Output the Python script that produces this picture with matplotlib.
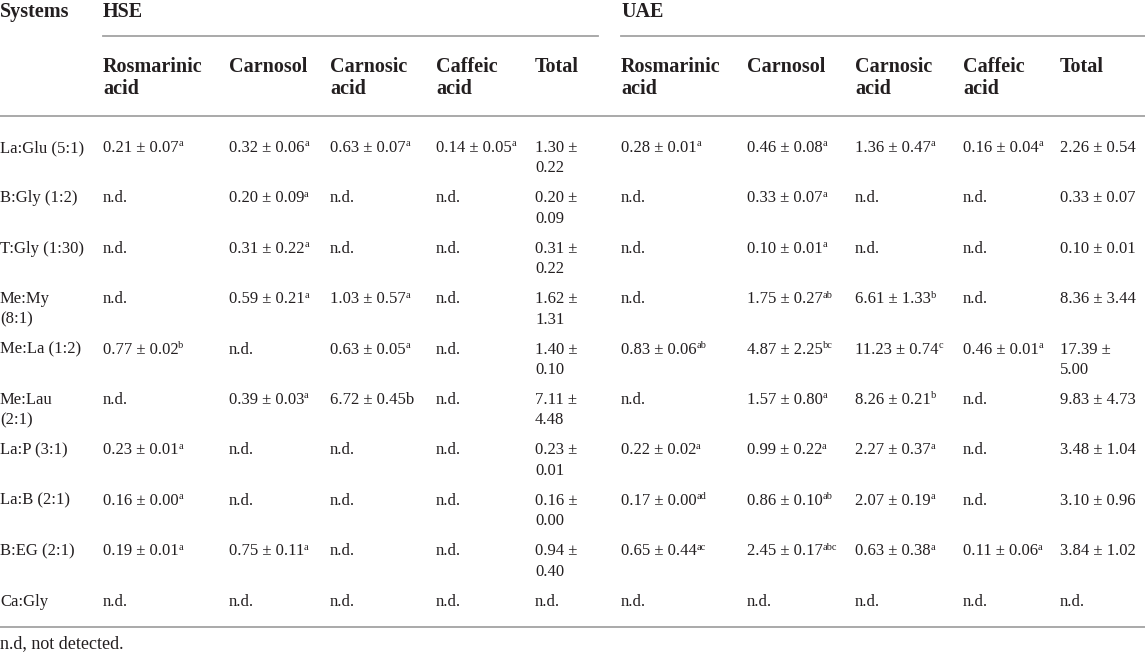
import matplotlib
matplotlib.use("Agg")
import matplotlib.pyplot as plt

plt.rcParams["font.family"] = ["Liberation Serif", "DejaVu Serif"]

# table content ("^" marks the superscript letters)
systems = ["La:Glu (5:1)", "B:Gly (1:2)", "T:Gly (1:30)", "Me:My\n(8:1)", "Me:La (1:2)",
           "Me:Lau\n(2:1)", "La:P (3:1)", "La:B (2:1)", "B:EG (2:1)", "Ca:Gly"]
groups = ["HSE", "UAE"]
compounds = ["Rosmarinic\nacid", "Carnosol", "Carnosic\nacid", "Caffeic\nacid", "Total"]

hse_rosmarinic = ["0.21 ± 0.07^a", "n.d.", "n.d.", "n.d.", "0.77 ± 0.02^b", "n.d.",
                  "0.23 ± 0.01^a", "0.16 ± 0.00^a", "0.19 ± 0.01^a", "n.d."]
hse_carnosol = ["0.32 ± 0.06^a", "0.20 ± 0.09^a", "0.31 ± 0.22^a", "0.59 ± 0.21^a", "n.d.",
                "0.39 ± 0.03^a", "n.d.", "n.d.", "0.75 ± 0.11^a", "n.d."]
hse_carnosic = ["0.63 ± 0.07^a", "n.d.", "n.d.", "1.03 ± 0.57^a", "0.63 ± 0.05^a",
                "6.72 ± 0.45b", "n.d.", "n.d.", "n.d.", "n.d."]
hse_caffeic = ["0.14 ± 0.05^a", "n.d.", "n.d.", "n.d.", "n.d.", "n.d.", "n.d.", "n.d.",
               "n.d.", "n.d."]
hse_total = ["1.30 ±\n0.22", "0.20 ±\n0.09", "0.31 ±\n0.22", "1.62 ±\n1.31", "1.40 ±\n0.10",
             "7.11 ±\n4.48", "0.23 ±\n0.01", "0.16 ±\n0.00", "0.94 ±\n0.40", "n.d."]

uae_rosmarinic = ["0.28 ± 0.01^a", "n.d.", "n.d.", "n.d.", "0.83 ± 0.06^ab", "n.d.",
                  "0.22 ± 0.02^a", "0.17 ± 0.00^ad", "0.65 ± 0.44^ac", "n.d."]
uae_carnosol = ["0.46 ± 0.08^a", "0.33 ± 0.07^a", "0.10 ± 0.01^a", "1.75 ± 0.27^ab",
                "4.87 ± 2.25^bc", "1.57 ± 0.80^a", "0.99 ± 0.22^a", "0.86 ± 0.10^ab",
                "2.45 ± 0.17^abc", "n.d."]
uae_carnosic = ["1.36 ± 0.47^a", "n.d.", "n.d.", "6.61 ± 1.33^b", "11.23 ± 0.74^c",
                "8.26 ± 0.21^b", "2.27 ± 0.37^a", "2.07 ± 0.19^a", "0.63 ± 0.38^a", "n.d."]
uae_caffeic = ["0.16 ± 0.04^a", "n.d.", "n.d.", "n.d.", "0.46 ± 0.01^a", "n.d.", "n.d.",
               "n.d.", "0.11 ± 0.06^a", "n.d."]
uae_total = ["2.26 ± 0.54", "0.33 ± 0.07", "0.10 ± 0.01", "8.36 ± 3.44", "17.39 ±\n5.00",
             "9.83 ± 4.73", "3.48 ± 1.04", "3.10 ± 0.96", "3.84 ± 1.02", "n.d."]

footnote = "n.d, not detected."

columns = [hse_rosmarinic, hse_carnosol, hse_carnosic, hse_caffeic, hse_total,
           uae_rosmarinic, uae_carnosol, uae_carnosic, uae_caffeic, uae_total]

# layout in pixels
W, H = 1145, 652
col_x = [103, 229, 330, 436, 535, 621, 747, 855, 963, 1060]
group_x = [103, 621]
group_line = [(103, 598), (621, 1145)]
row_y0, row_step, line_step = 152, 50.4, 20.5
ink = "#231f20"
rule = "#a3a3a3"
body_size = 12
head_size = 14.5

fig = plt.figure(figsize=(W / 100, H / 100), dpi=100)
ax = fig.add_axes([0, 0, 1, 1])
ax.set_xlim(0, W)
ax.set_ylim(H, 0)
ax.axis("off")
renderer = fig.canvas.get_renderer()


def cell(x, y, s):
    for i, line in enumerate(s.split("\n")):
        base, _, sup = line.partition("^")
        yy = y + i * line_step
        t = ax.text(x, yy, base, ha="left", va="baseline", color=ink, fontsize=body_size)
        if sup:
            bb = t.get_window_extent(renderer)
            x_end = ax.transData.inverted().transform((bb.x1, bb.y0))[0]
            ax.text(x_end - 0.3, yy - 5.5, sup, ha="left", va="baseline", color=ink,
                    fontsize=7.5)


# header
ax.text(0, 17, "Systems", ha="left", va="baseline", fontsize=head_size, fontweight="bold",
        color=ink)
for gx, g, (x0, x1) in zip(group_x, groups, group_line):
    ax.text(gx, 17, g, ha="left", va="baseline", fontsize=head_size, fontweight="bold",
            color=ink)
    ax.plot([x0, x1], [36, 36], color=rule, lw=1.3)
for k, x in enumerate(col_x):
    name = compounds[k % len(compounds)]
    for i, line in enumerate(name.split("\n")):
        ax.text(x, 72 + i * 22.5, line, ha="left", va="baseline", fontsize=head_size,
                fontweight="bold", color=ink)
ax.plot([0, W], [116, 116], color=rule, lw=1.3)

# body
for r, name in enumerate(systems):
    y = row_y0 + r * row_step
    cell(0, y, name)
    for x, col in zip(col_x, columns):
        cell(x, y, col[r])

ax.plot([0, W], [627, 627], color=rule, lw=1.3)
ax.text(0, 648, footnote, ha="left", va="baseline", fontsize=13, color=ink)

fig.savefig("out.png", dpi=100)
